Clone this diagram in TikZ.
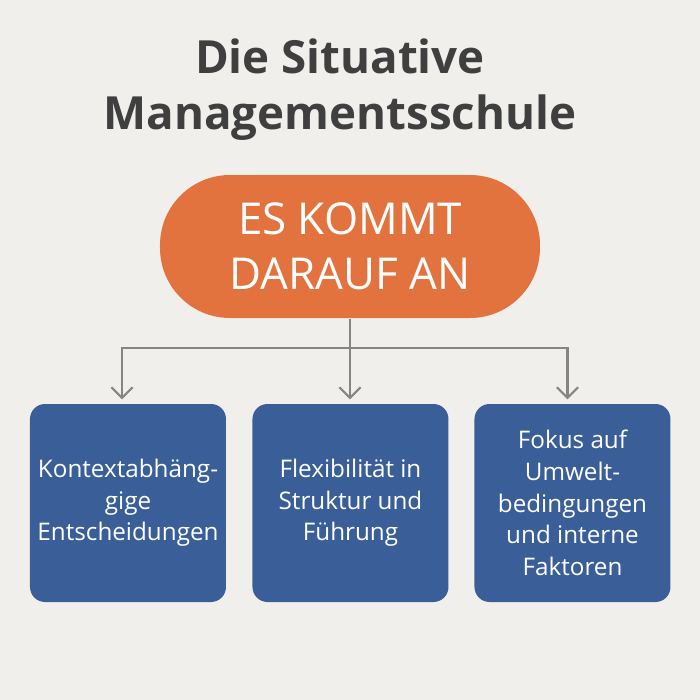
\documentclass[tikz,border=0pt]{standalone}
\usepackage{fontspec}
\setmainfont{Open Sans}
\usetikzlibrary{arrows.meta}
\definecolor{bgcol}{HTML}{F1EFEB}
\definecolor{orangecol}{HTML}{E2733F}
\definecolor{bluecol}{HTML}{3A5F98}
\definecolor{linecol}{HTML}{858585}
\definecolor{titlecol}{HTML}{3F3F3F}
\tikzset{
  topbox/.style={fill=orangecol,rounded corners=0.7cm,minimum width=3.8cm,minimum height=1.43cm,
    text=white,align=center,font=\fontsize{12.5}{15.5}\selectfont},
  leafbox/.style={fill=bluecol,rounded corners=0.15cm,minimum width=1.96cm,minimum height=1.98cm,
    inner xsep=1pt,text=white,align=center,font=\fontsize{6.9}{9}\selectfont},
  link/.style={draw=linecol,line width=0.6pt,-{Straight Barb[length=3pt,width=6pt]}}
}
\begin{document}
\begin{tikzpicture}
\fill[bgcol] (0,0) rectangle (7,7);
\node[text=titlecol,align=center,font=\fontsize{13}{16}\selectfont\bfseries] (title) at (3.4,6.1) {Die Situative\\Managementsschule};
\node[topbox] (top) at (3.5,4.535) {ES KOMMT\\DARAUF AN};
\node[leafbox] (b1) at (1.28,1.97) {Kontextabhäng-\\gige\\Entscheidungen};
\node[leafbox] (b2) at (3.505,1.97) {Flexibilität in\\Struktur und\\Führung};
\node[leafbox] (b3) at (5.725,1.97) {Fokus auf\\Umwelt-\\bedingungen\\und interne\\Faktoren};
\coordinate (j) at (3.5,3.52);
\draw[draw=linecol,line width=0.6pt] (top) -- (j);
\draw[link] (j) -| ([xshift=-0.06cm,yshift=0.04cm]b1.north);
\draw[link] (j) -- ([yshift=0.04cm]b2.north -| j);
\draw[link] (j) -| ([xshift=-0.05cm,yshift=0.04cm]b3.north);
\end{tikzpicture}
\end{document}
